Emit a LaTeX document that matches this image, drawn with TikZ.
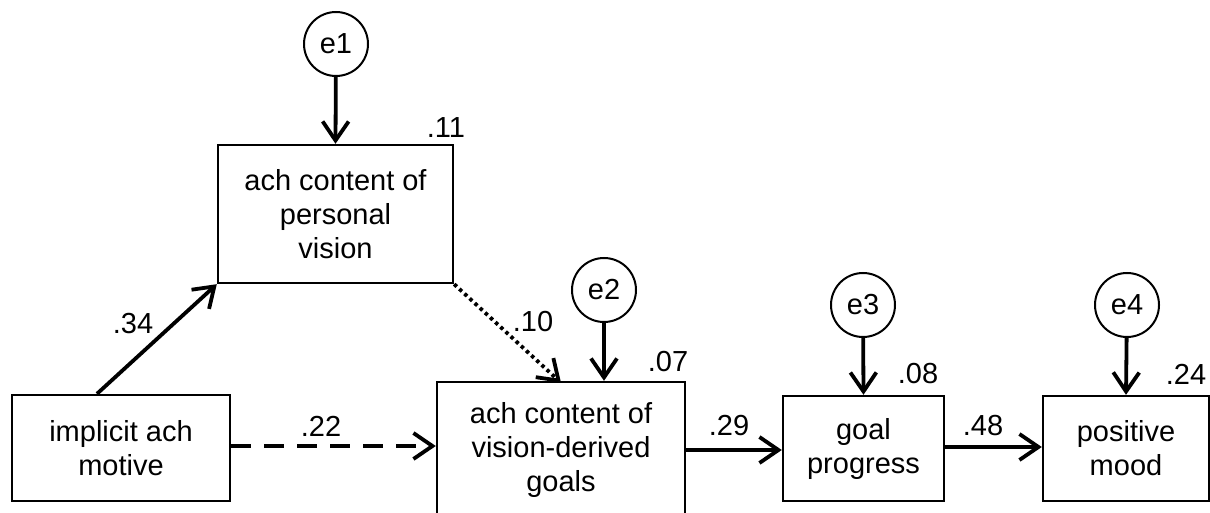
\documentclass[tikz,border=0pt]{standalone}
\usepackage{fontspec}
\setmainfont{Liberation Sans}
\usetikzlibrary{arrows.meta,calc}
\begin{document}
\begin{tikzpicture}[x=1pt,y=-1pt,
  every node/.style={font=\fontsize{29pt}{34pt}\selectfont},
  var/.style={draw,line width=2.4pt,rectangle,align=center,inner sep=0pt},
  err/.style={draw,line width=2pt,circle,minimum size=64pt,inner sep=0pt},
  path/.style={line width=3.8pt,-{Straight Barb[length=19pt,width=26pt]}},
  num/.style={inner sep=0pt}]
\useasboundingbox (0,0) rectangle (1210,513);

% observed variables
\node[var,minimum width=235pt,minimum height=138pt] (vis) at (335.5,214) {ach content of\\personal\\vision};
\node[var,minimum width=218pt,minimum height=106pt] (imp) at (121,448) {implicit ach\\motive};
\node[var,minimum width=248pt,minimum height=136pt] (vdg) at (561,450) {ach content of\\vision-derived\\goals};
\node[var,minimum width=161pt,minimum height=105pt] (gp) at (863.5,448.5) {goal\\progress};
\node[var,minimum width=166pt,minimum height=105pt] (pm) at (1126,448.5) {positive\\mood};

% residual terms
\node[err] (e1) at (336,44) {e1};
\node[err] (e2) at (604,290) {e2};
\node[err] (e3) at (863,305) {e3};
\node[err] (e4) at (1127,305) {e4};

% residual paths
\draw[path] (e1) -- (vis.north);
\draw[path] (e2) -- (e2 |- vdg.north);
\draw[path] (e3) -- (gp.north);
\draw[path] (e4) -- (pm.north);

% structural paths
\draw[path] ([xshift=-24pt]imp.north) -- (vis.south west);
\draw[path,dash pattern=on 20pt off 13pt] ([yshift=2pt]imp.east) -- ([yshift=2pt]imp.east -| vdg.west);
\draw[path,dash pattern=on 3.5pt off 3.5pt] (vis.south east) -- ([yshift=-2pt]vdg.north);
\draw[path] (vdg.east) -- (vdg.east -| gp.west);
\draw[path] ([yshift=1.5pt]gp.east) -- ([yshift=1.5pt]gp.east -| pm.west);

% coefficients
\node[num] (r1) at (446,128) {.11};
\node[num] (r2) at (668,362) {.07};
\node[num] (r3) at (918,374) {.08};
\node[num] (r4) at (1186,374) {.24};
\node[num] (b1) at (133,324) {.34};
\node[num] (b2) at (321,426) {.22};
\node[num] (b3) at (533,322) {.10};
\node[num] (b4) at (729,426) {.29};
\node[num] (b5) at (983,426) {.48};
\end{tikzpicture}
\end{document}
